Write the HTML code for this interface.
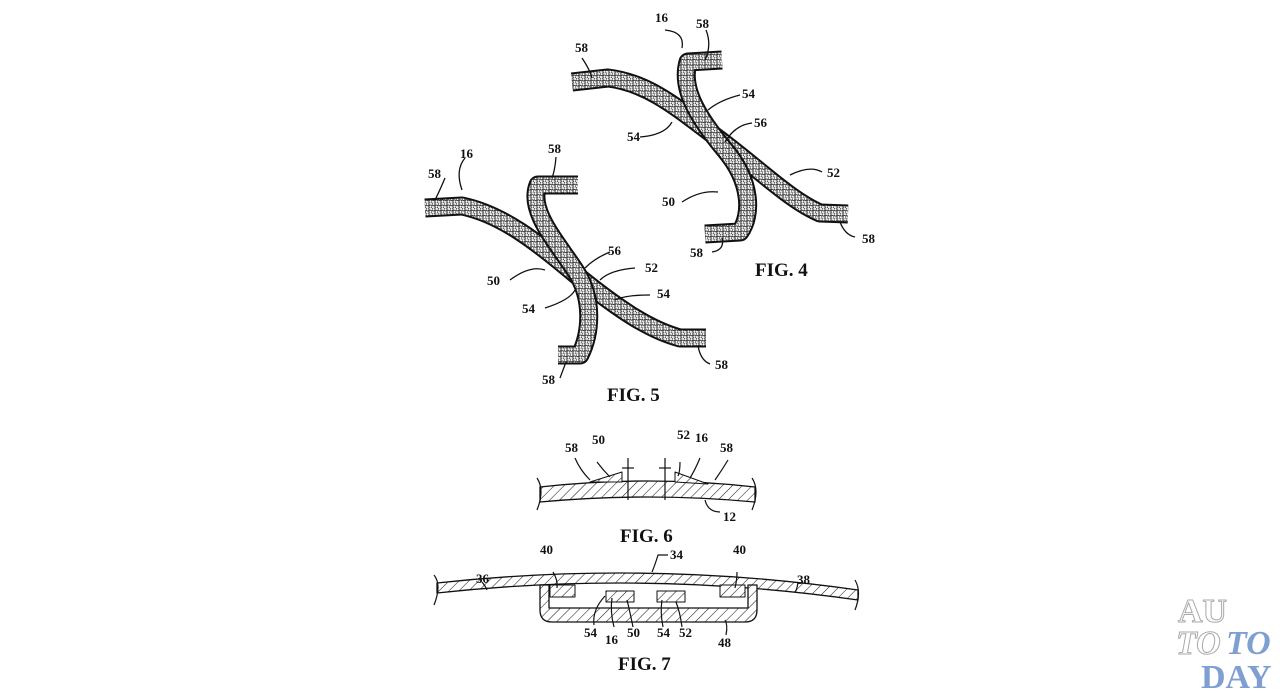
<!DOCTYPE html>
<html><head><meta charset="utf-8"><style>
html,body{margin:0;padding:0;background:#fff;width:1280px;height:693px;overflow:hidden}
svg text{font-family:"Liberation Serif",serif;fill:#111}
</style></head><body>
<svg width="1280" height="693" viewBox="0 0 1280 693" xmlns="http://www.w3.org/2000/svg">
<defs>
<pattern id="hex" width="6" height="5.2" patternUnits="userSpaceOnUse">
<rect width="6" height="5.2" fill="#e8e8e8"/>
<circle cx="1.5" cy="1.3" r="1.6" fill="#fff" stroke="#222" stroke-width="0.9"/>
<circle cx="4.5" cy="3.9" r="1.6" fill="#fff" stroke="#222" stroke-width="0.9"/>
</pattern>
<pattern id="hatch" width="7" height="7" patternUnits="userSpaceOnUse" patternTransform="rotate(45)">
<rect width="7" height="7" fill="#fff"/><line x1="0" y1="0" x2="0" y2="7" stroke="#222" stroke-width="1.1"/>
</pattern>
</defs>
<g fill="none" stroke-linejoin="round" stroke-linecap="butt">
<!-- FIG 4 -->
<g>
<path d="M572,82 L608,78 C650,83 680,110 720,140 C760,170 790,200 820,213 L848,214" stroke="#111" stroke-width="19"/>
<path d="M572,82 L608,78 C650,83 680,110 720,140 C760,170 790,200 820,213 L848,214" stroke="url(#hex)" stroke-width="15"/>
<path d="M722,60 L688,62 C680,90 700,120 725,150 C752,182 752,215 740,232 L705,234" stroke="#111" stroke-width="19"/>
<path d="M722,60 L688,62 C680,90 700,120 725,150 C752,182 752,215 740,232 L705,234" stroke="url(#hex)" stroke-width="15"/>
</g>
<!-- FIG 5 -->
<g>
<path d="M425,208 L462,206 C505,215 540,245 580,278 C620,310 650,330 680,338 L706,338" stroke="#111" stroke-width="19"/>
<path d="M425,208 L462,206 C505,215 540,245 580,278 C620,310 650,330 680,338 L706,338" stroke="url(#hex)" stroke-width="15"/>
<path d="M578,185 L538,185 C528,210 555,240 575,270 C595,300 590,335 580,355 L558,355" stroke="#111" stroke-width="19"/>
<path d="M578,185 L538,185 C528,210 555,240 575,270 C595,300 590,335 580,355 L558,355" stroke="url(#hex)" stroke-width="15"/>
</g>
<!-- leader lines -->
<g stroke="#111" stroke-width="1.3">
<path d="M665,30 Q685,32 682,48"/><path d="M582,58 Q590,70 592,78"/><path d="M706,30 Q712,45 705,60"/>
<path d="M740,95 Q720,100 708,110"/><path d="M640,137 Q665,135 672,122"/><path d="M752,123 Q735,125 725,142"/>
<path d="M822,172 Q810,165 790,175"/><path d="M682,202 Q700,190 718,192"/><path d="M712,252 Q725,250 722,238"/><path d="M855,237 Q845,235 840,222"/>
<path d="M465,158 Q455,170 462,190"/><path d="M445,178 Q440,190 435,200"/><path d="M556,157 Q555,170 552,178"/>
<path d="M610,252 Q595,258 585,268"/><path d="M635,268 Q610,270 600,280"/><path d="M510,280 Q530,265 545,270"/>
<path d="M545,308 Q570,300 575,290"/><path d="M650,295 Q625,295 615,300"/><path d="M560,378 Q563,370 566,362"/><path d="M710,364 Q700,360 698,345"/>
</g>
<!-- FIG 6 -->
<path d="M540,487 Q648,475 755,487 L755,502 Q648,492 540,502 Z" fill="url(#hatch)" stroke="#111" stroke-width="1.3"/>
<path d="M590,482 L622,472 L622,482 Z" fill="url(#hatch)" stroke="#111"/>
<path d="M675,472 L675,482 L708,484 Z" fill="url(#hatch)" stroke="#111"/>
<g stroke="#111" stroke-width="1.2">
<path d="M537,478 Q545,490 537,510"/><path d="M752,478 Q760,490 752,510"/>
<line x1="628" y1="458" x2="628" y2="500"/><line x1="665" y1="458" x2="665" y2="500"/>
<line x1="622" y1="468" x2="634" y2="468"/><line x1="659" y1="468" x2="671" y2="468"/>
<path d="M575,458 Q580,470 590,480"/><path d="M597,462 Q603,470 610,477"/>
<path d="M680,462 Q680,472 678,476"/><path d="M700,458 Q695,470 690,478"/><path d="M728,460 Q722,470 715,480"/>
<path d="M705,500 Q708,512 720,512"/>
</g>
<!-- FIG 7 -->
<path d="M437,583 Q648,560 858,590 L858,600 Q648,570 437,593 Z" fill="url(#hatch)" stroke="#111" stroke-width="1.3"/>
<path d="M540,585 L540,610 Q540,622 552,622 L745,622 Q757,622 757,610 L757,585 L748,585 L748,608 L549,608 L549,585 Z" fill="url(#hatch)" stroke="#111" stroke-width="1.3"/>
<path d="M550,585 L575,585 L575,597 L550,597 Z M720,585 L745,585 L745,597 L720,597 Z" fill="url(#hatch)" stroke="#111"/>
<rect x="606" y="591" width="28" height="11" fill="url(#hatch)" stroke="#111"/>
<rect x="657" y="591" width="28" height="11" fill="url(#hatch)" stroke="#111"/>
<g stroke="#111" stroke-width="1.2">
<path d="M434,575 Q442,585 434,605"/><path d="M855,580 Q862,592 855,610"/>
<path d="M482,582 Q486,587 487,590"/><path d="M553,572 Q558,580 557,588"/><path d="M737,572 Q737,580 735,588"/>
<path d="M798,582 Q797,590 795,592"/><path d="M668,555 L658,555 Q655,565 652,572"/>
<path d="M594,625 Q592,610 605,596"/><path d="M614,627 Q610,612 612,598"/><path d="M633,627 Q630,612 627,600"/>
<path d="M663,627 Q660,612 662,600"/><path d="M682,627 Q680,612 676,602"/><path d="M726,635 Q728,625 725,620"/>
</g>
</g>
<g font-size="13" font-weight="bold">
<text x="655" y="22">16</text><text x="696" y="28">58</text><text x="575" y="52">58</text>
<text x="742" y="98">54</text><text x="627" y="141">54</text><text x="754" y="127">56</text>
<text x="827" y="177">52</text><text x="662" y="206">50</text><text x="690" y="257">58</text><text x="862" y="243">58</text>
<text x="460" y="158">16</text><text x="428" y="178">58</text><text x="548" y="153">58</text>
<text x="608" y="255">56</text><text x="645" y="272">52</text><text x="487" y="285">50</text>
<text x="522" y="313">54</text><text x="657" y="298">54</text><text x="542" y="384">58</text><text x="715" y="369">58</text>
<text x="565" y="452">58</text><text x="592" y="444">50</text><text x="677" y="439">52</text><text x="695" y="442">16</text><text x="720" y="452">58</text>
<text x="723" y="521">12</text>
<text x="476" y="583">36</text><text x="540" y="554">40</text><text x="670" y="559">34</text><text x="733" y="554">40</text><text x="797" y="584">38</text>
<text x="584" y="637">54</text><text x="605" y="644">16</text><text x="627" y="637">50</text><text x="657" y="637">54</text><text x="679" y="637">52</text><text x="718" y="647">48</text>
</g>
<g font-size="19" font-weight="bold">
<text x="755" y="276">FIG. 4</text><text x="607" y="401">FIG. 5</text><text x="620" y="542">FIG. 6</text><text x="618" y="670">FIG. 7</text>
</g>
<g font-family="Liberation Serif,serif" font-weight="bold" font-size="34">
<text x="1178" y="622" stroke="#aaa" stroke-width="1" style="fill:#fff">AU</text>
<text x="1176" y="654" stroke="#aaa" stroke-width="1" font-style="italic" style="fill:#fff">TO</text>
<text x="1226" y="654" font-style="italic" style="fill:#7f9fd0">TO</text>
<text x="1201" y="688" style="fill:#7f9fd0">DAY</text>
</g>
</svg>
</body></html>
